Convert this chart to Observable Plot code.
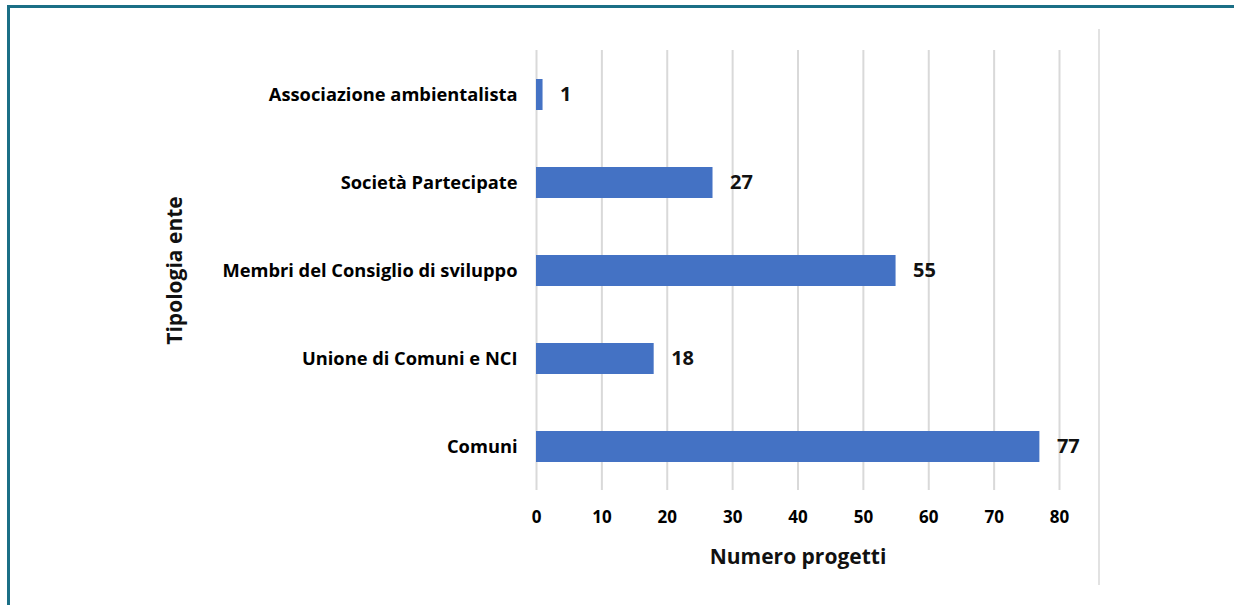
<!DOCTYPE html>
<html>
<head>
<meta charset="utf-8">
<script src="https://cdn.jsdelivr.net/npm/d3@7"></script>
<script src="https://cdn.jsdelivr.net/npm/@observablehq/plot@0.6"></script>
<style>
  html, body { margin: 0; padding: 0; background: #fff; }
  #wrap { position: relative; width: 1234px; height: 605px; overflow: hidden; font-family: "Open Sans", sans-serif; }
  #wrap svg { position: absolute; left: 0; top: 0; }
  .frameL { position: absolute; left: 7px; top: 5px; width: 3px; height: 600px; background: #1b6f86; }
  .frameT { position: absolute; left: 7px; top: 5px; width: 1227px; height: 3px; background: #1b6f86; }
  .sep { position: absolute; left: 1098px; top: 29px; width: 2px; height: 556px; background: #e2e2e2; }
</style>
</head>
<body>
<div id="wrap">
  <div class="sep"></div>
  <div class="frameL"></div>
  <div class="frameT"></div>
</div>
<script>
const categories = ["Associazione ambientalista", "Società Partecipate", "Membri del Consiglio di sviluppo", "Unione di Comuni e NCI", "Comuni"];
const values = [1, 27, 55, 18, 77];
const xTicks = [0, 10, 20, 30, 40, 50, 60, 70, 80];

const data = categories.map((c, i) => ({cat: c, n: values[i]}));

const chart = Plot.plot({
  width: 1234,
  height: 605,
  marginLeft: 536,
  marginRight: 175,
  marginTop: 50,
  marginBottom: 115,
  style: {fontFamily: "'Open Sans', sans-serif", fontWeight: 700, color: "#000", background: "transparent"},
  x: {domain: [0, 80], ticks: xTicks},
  y: {domain: categories, paddingInner: 0.65, paddingOuter: 0.325},
  marks: [
    Plot.gridX(xTicks, {stroke: "#d9d9d9", strokeOpacity: 1, strokeWidth: 2}),
    Plot.barX(data, {x: "n", y: "cat", fill: "#4472C4"}),
    Plot.text(data, {x: "n", y: "cat", text: d => String(d.n), textAnchor: "start", dx: 17, fontSize: 20, fontWeight: 700, fill: "#111"}),
    Plot.axisX({ticks: xTicks, tickSize: 0, tickPadding: 20, fontSize: 17, fontWeight: 700, label: null}),
    Plot.axisY({tickSize: 0, tickPadding: 19, fontSize: 18.3, fontWeight: 700, label: null}),
    Plot.text(["Numero progetti"], {frameAnchor: "bottom", dy: 73, fontSize: 21, fontWeight: 700, fill: "#111"}),
    Plot.text(["Tipologia ente"], {frameAnchor: "left", textAnchor: "middle", dx: -361, rotate: -90, fontSize: 21, fontWeight: 700, fill: "#111"})
  ]
});
document.getElementById("wrap").prepend(chart);
</script>
</body>
</html>
